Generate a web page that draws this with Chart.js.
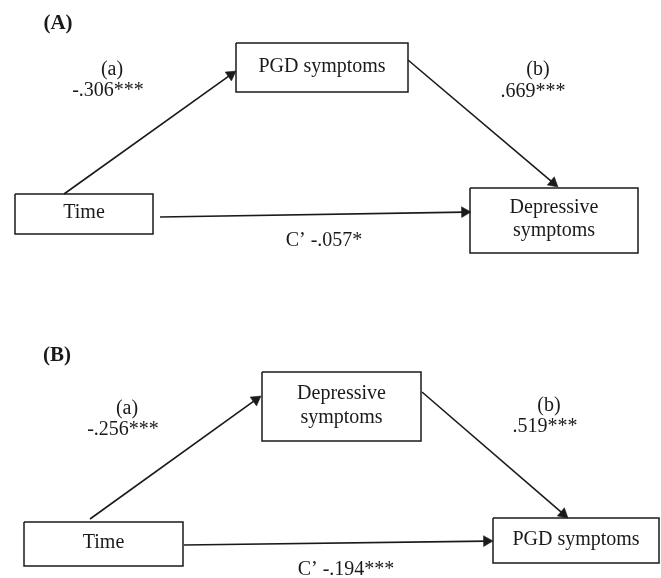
<!DOCTYPE html>
<html>
<head>
<meta charset="utf-8">
<script src="https://cdn.jsdelivr.net/npm/chart.js@4"></script>
<style>
  html, body { margin: 0; padding: 0; background: #fff; }
  #wrap { width: 661px; height: 578px; }
</style>
</head>
<body>
<div id="wrap"><canvas id="chartCanvas" width="661" height="578"></canvas></div>
<script>
// ---------- DATA ----------
const panelTitles = ["(A)", "(B)"];
const predictors = [["Time"], ["Time"]];
const mediators = [["PGD symptoms"], ["Depressive", "symptoms"]];
const outcomes = [["Depressive", "symptoms"], ["PGD symptoms"]];
const pathNames = ["(a)", "(b)"];
const pathA = ["-.306***", "-.256***"];
const pathB = [".669***", ".519***"];
const pathC = ["C\u2019 -.057*", "C\u2019 -.194***"];

// ---------- LAYOUT (px in a 661x578 frame) ----------
const W = 661, H = 578;
const layout = [
  {
    title: [58, 24],
    lineGap: 23,
    pred: [15, 194, 153, 234],
    med: [236, 43, 408, 92],
    out: [470, 188, 638, 253],
    arrowA: [[64, 194], [236, 71]],
    arrowB: [[408, 60], [558, 187]],
    arrowC: [[160, 217], [471, 212]],
    labA: [[112, 70], [108, 91]],
    labB: [[538, 70], [533, 92]],
    labC: [324, 241]
  },
  {
    title: [57, 356],
    lineGap: 24.5,
    pred: [24, 522, 183, 566],
    med: [262, 372, 421, 441],
    out: [493, 518, 659, 563],
    arrowA: [[90, 519], [261, 396]],
    arrowB: [[422, 392], [568, 518]],
    arrowC: [[184, 545], [493, 541]],
    labA: [[127, 409], [123, 430]],
    labB: [[549, 406], [545, 427]],
    labC: [346, 570]
  }
];

const INK = "#1a1a1a";
const FONT = '"Liberation Serif", "DejaVu Serif", serif';
const HEAD = 6.3;

// ----- dataset helpers -----
function boxDataset(b){
  const [x0, y0, x1, y1] = b;
  return {
    data: [{x:x0,y:y0},{x:x1,y:y0},{x:x1,y:y1},{x:x0,y:y1},{x:x0,y:y0}],
    showLine: true, borderColor: INK, borderWidth: 1.5, pointRadius: 0,
    tension: 0, fill: false, clip: false
  };
}
function arrowDataset(a){
  const [[sx, sy], [tx, ty]] = a;
  const dx = tx - sx, dy = ty - sy, len = Math.hypot(dx, dy);
  // triangle is centred on its point, so pull the point back so the tip lands on target
  const hx = tx - dx / len * HEAD, hy = ty - dy / len * HEAD;
  const rot = Math.atan2(dx, -dy) * 180 / Math.PI;
  return {
    data: [{x:sx,y:sy},{x:hx,y:hy}],
    showLine: true, borderColor: INK, borderWidth: 1.6, tension: 0, clip: false,
    pointStyle: "triangle", pointRadius: [0, HEAD], pointRotation: [0, rot],
    pointBackgroundColor: INK, pointBorderColor: INK, pointBorderWidth: 0.5
  };
}

const datasets = [];
layout.forEach(p => {
  datasets.push(boxDataset(p.pred), boxDataset(p.med), boxDataset(p.out));
  datasets.push(arrowDataset(p.arrowA), arrowDataset(p.arrowB), arrowDataset(p.arrowC));
});

// ----- text plugin -----
const textPlugin = {
  id: "diagramText",
  afterDatasetsDraw(chart){
    const ctx = chart.ctx, xs = chart.scales.x, ys = chart.scales.y;
    const px = v => xs.getPixelForValue(v), py = v => ys.getPixelForValue(v);
    function put(str, x, y, bold){
      ctx.font = (bold ? "bold 21px " : "20px ") + FONT;
      ctx.fillText(str, px(x), py(y));
    }
    function inBox(lines, b, gap){
      const cx = (b[0] + b[2]) / 2, cy = (b[1] + b[3]) / 2 - 1;
      lines.forEach((l, i) => put(l, cx, cy + (i - (lines.length - 1) / 2) * gap));
    }
    ctx.save();
    ctx.fillStyle = INK;
    ctx.textAlign = "center";
    ctx.textBaseline = "middle";
    layout.forEach((p, i) => {
      put(panelTitles[i], p.title[0], p.title[1], true);
      inBox(predictors[i], p.pred, p.lineGap);
      inBox(mediators[i], p.med, p.lineGap);
      inBox(outcomes[i], p.out, p.lineGap);
      put(pathNames[0], p.labA[0][0], p.labA[0][1]);
      put(pathA[i], p.labA[1][0], p.labA[1][1]);
      put(pathNames[1], p.labB[0][0], p.labB[0][1]);
      put(pathB[i], p.labB[1][0], p.labB[1][1]);
      put(pathC[i], p.labC[0], p.labC[1]);
    });
    ctx.restore();
  }
};

const chart = new Chart(document.getElementById("chartCanvas"), {
  type: "scatter",
  data: { datasets },
  options: {
    responsive: false,
    animation: false,
    events: [],
    layout: { padding: 0, autoPadding: false },
    scales: {
      x: { type: "linear", min: 0, max: W, display: false },
      y: { type: "linear", min: 0, max: H, reverse: true, display: false }
    },
    plugins: { legend: { display: false }, tooltip: { enabled: false } }
  },
  plugins: [textPlugin]
});
</script>
</body>
</html>
